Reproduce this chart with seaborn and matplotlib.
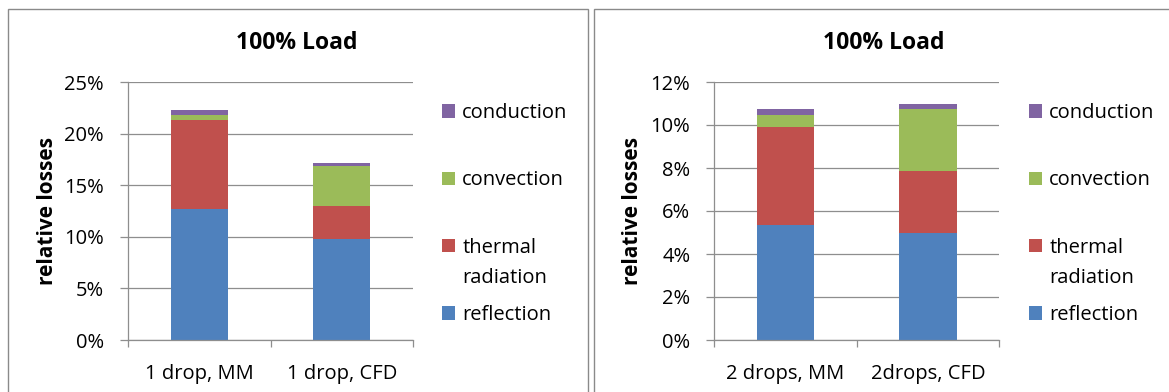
import textwrap

import matplotlib
matplotlib.use("Agg")
import matplotlib.pyplot as plt
from matplotlib.patches import Patch, Rectangle
import pandas as pd
import seaborn as sns

# Loss components, listed top of the stack first (legend order)
components = ["conduction", "convection", "thermal radiation", "reflection"]
component_colors = ["#8064A2", "#9BBB59", "#C0504D", "#4F81BD"]

# Single-drop cases (relative losses in %)
cases_single = ["1 drop, MM", "1 drop, CFD"]
reflection_single = [12.7, 9.8]
thermal_single = [8.65, 3.2]
convection_single = [0.5, 3.9]
conduction_single = [0.4, 0.25]

# Two-drop cases (relative losses in %)
cases_double = ["2 drops, MM", "2drops, CFD"]
reflection_double = [5.35, 5.0]
thermal_double = [4.55, 2.87]
convection_double = [0.55, 2.86]
conduction_double = [0.3, 0.23]

yticks_single = [0, 5, 10, 15, 20, 25]
yticks_double = [0, 2, 4, 6, 8, 10, 12]
panel_title = "100% Load"
y_label = "relative losses"

W, H = 1169, 392
GRID = "#8e8e8e"
FS = 14.5

sns.set_style("white")
plt.rcParams["font.family"] = ["Open Sans", "DejaVu Sans"]
plt.rcParams["text.color"] = "black"
plt.rcParams["axes.labelcolor"] = "black"


def long_form(cases, conduction, convection, thermal, reflection):
    rows = []
    for name, vals in zip(components, [conduction, convection, thermal, reflection]):
        for case, v in zip(cases, vals):
            rows.append({"case": case, "component": name, "value": v})
    return pd.DataFrame(rows)


def draw_panel(ax, df, cases, yticks, legend_x, title_x, ylabel_x):
    sns.histplot(
        data=df, x="case", hue="component", weights="value",
        hue_order=components, palette=component_colors,
        multiple="stack", discrete=True, shrink=0.4,
        alpha=1, linewidth=0, legend=False, ax=ax,
    )
    ax.set_axisbelow(True)
    ax.set_xlim(-0.5, len(cases) - 0.5)
    ax.set_ylim(yticks[0], yticks[-1])
    ax.set_yticks(yticks, [f"{t}%" for t in yticks])
    ax.set_xticks(range(len(cases)), cases)
    ax.set_xticks([i - 0.5 for i in range(len(cases) + 1)], minor=True)
    ax.yaxis.grid(True, color=GRID, linewidth=0.9)
    ax.xaxis.grid(False)
    for side in ("top", "right"):
        ax.spines[side].set_visible(False)
    for side in ("left", "bottom"):
        ax.spines[side].set_color(GRID)
        ax.spines[side].set_linewidth(0.9)
    ax.tick_params(axis="y", which="major", direction="out", length=6,
                   width=0.9, color=GRID, labelcolor="black", pad=11,
                   labelsize=FS, left=True)
    ax.tick_params(axis="x", which="major", length=0, pad=17,
                   labelcolor="black", labelsize=FS)
    ax.tick_params(axis="x", which="minor", direction="out", length=5,
                   width=0.9, color=GRID, bottom=True)
    ax.set_xlabel("")
    ax.set_ylabel(y_label, fontsize=15, fontweight="bold", va="center")
    ax.yaxis.set_label_coords(ylabel_x, 0.5)
    ax.set_title(panel_title, fontsize=16.5, fontweight="bold",
                 x=title_x, y=1.151, va="center", pad=0)

    # Legend: first line of each name beside its swatch, extra lines below
    wrapped = [textwrap.wrap(c, 10) for c in components]
    handles = [Patch(facecolor=c, edgecolor="none") for c in component_colors]
    leg = ax.legend(
        handles, [w[0] for w in wrapped], loc="upper left",
        bbox_to_anchor=(legend_x, 0.918), frameon=False, fontsize=FS,
        handlelength=0.63, handleheight=0.63, handletextpad=0.38,
        labelspacing=2.35, borderpad=0, borderaxespad=0,
    )
    for text, lines in zip(leg.get_texts(), wrapped):
        for k, line in enumerate(lines[1:], start=1):
            ax.annotate(line, xy=(0, 0), xycoords=text,
                        xytext=(0, -18 - 21.5 * (k - 1)),
                        textcoords="offset points", va="baseline",
                        ha="left", fontsize=FS, zorder=leg.get_zorder() + 1)


fig = plt.figure(figsize=(W / 100, H / 100), dpi=100)

# Chart frames
for x0, x1 in [(8, 588), (594.3, 1180)]:
    fig.add_artist(Rectangle((x0 / W, -0.1), (x1 - x0) / W, 1.1 - 9.5 / H,
                             transform=fig.transFigure, fill=False,
                             edgecolor="#8a8a8a", linewidth=1.0))

ax1 = fig.add_axes([127.7 / W, 52 / H, 285.6 / W, 258 / H])
ax2 = fig.add_axes([714 / W, 52 / H, 285.3 / W, 258 / H])

draw_panel(ax1, long_form(cases_single, conduction_single, convection_single,
                          thermal_single, reflection_single),
           cases_single, yticks_single, legend_x=1.1005, title_x=0.592,
           ylabel_x=-0.2804)
draw_panel(ax2, long_form(cases_double, conduction_double, convection_double,
                          thermal_double, reflection_double),
           cases_double, yticks_double, legend_x=1.104, title_x=0.596,
           ylabel_x=-0.287)

fig.canvas.draw()
fig.savefig("out.png", dpi=100)
